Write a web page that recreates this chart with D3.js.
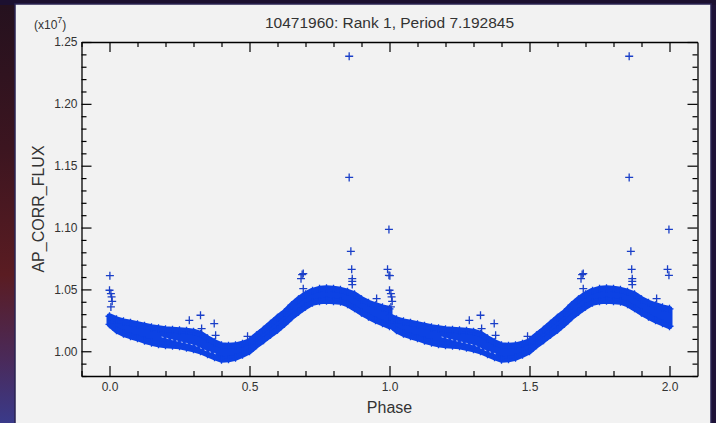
<!DOCTYPE html>
<html>
<head>
<meta charset="utf-8">
<script src="https://cdn.jsdelivr.net/npm/d3@7"></script>
<style>
  html, body { margin: 0; padding: 0; background: #1c1030; }
  svg { display: block; }
  text { font-family: "Liberation Sans", Arial, Helvetica, sans-serif; fill: #333; }
</style>
</head>
<body>
<svg id="chart" width="716" height="423"></svg>
<script>
// Phase-folded light curve, flux in units of 1e7.
// Band envelope sampled in phase (one cycle, drawn at phase and phase + 1).
const phaseGrid = [0.000, 0.025, 0.050, 0.075, 0.100, 0.125, 0.150, 0.175, 0.200, 0.225,
                   0.250, 0.275, 0.300, 0.325, 0.350, 0.375, 0.400, 0.425, 0.450, 0.475,
                   0.500, 0.525, 0.550, 0.575, 0.600, 0.625, 0.650, 0.675, 0.700, 0.725,
                   0.750, 0.775, 0.800, 0.825, 0.850, 0.875, 0.900, 0.925, 0.950, 0.975, 1.000];
const bandUpper = [1.0283, 1.0258, 1.0242, 1.0230, 1.0218, 1.0206, 1.0194, 1.0186, 1.0178, 1.0174,
                   1.0170, 1.0166, 1.0158, 1.0141, 1.0105, 1.0073, 1.0048, 1.0044, 1.0048, 1.0061,
                   1.0081, 1.0129, 1.0174, 1.0222, 1.0271, 1.0315, 1.0372, 1.0420, 1.0460, 1.0489,
                   1.0505, 1.0509, 1.0505, 1.0497, 1.0481, 1.0460, 1.0420, 1.0392, 1.0372, 1.0355, 1.0343];
const bandLower = [1.0218, 1.0170, 1.0141, 1.0121, 1.0105, 1.0085, 1.0069, 1.0057, 1.0048, 1.0044,
                   1.0040, 1.0028, 1.0016, 1.0000, 0.9976, 0.9952, 0.9931, 0.9935, 0.9947, 0.9972,
                   1.0000, 1.0048, 1.0089, 1.0133, 1.0174, 1.0222, 1.0275, 1.0319, 1.0359, 1.0392,
                   1.0404, 1.0408, 1.0404, 1.0400, 1.0380, 1.0347, 1.0311, 1.0279, 1.0250, 1.0226, 1.0202];

// Sparse seam between the two overlapping segments of the band
const seamPhase = [0.186, 0.215, 0.245, 0.275, 0.305, 0.341, 0.365, 0.388];
const seamFlux  = [1.0116, 1.0098, 1.0081, 1.0064, 1.0048, 1.0008, 0.9990, 0.9973];

// Individual points standing off the band.
const outlierPhase = [0.0014, 0.0000, 0.0050, 0.0075, 0.0096, 0.0050,
                      0.285, 0.325, 0.329, 0.374, 0.379, 0.493,
                      0.688, 0.692, 0.684, 0.692,
                      0.856, 0.856, 0.862, 0.865, 0.867, 0.867, 0.867,
                      0.954, 0.993, 0.998, 0.998];
const outlierFlux  = [1.0611, 1.0493, 1.0466, 1.0439, 1.0404, 1.0358,
                      1.0250, 1.0291, 1.0183, 1.0224, 1.0129, 1.0121,
                      1.0620, 1.0628, 1.0587, 1.0506,
                      1.2385, 1.1405, 1.0808, 1.0662, 1.0587, 1.0565, 1.0539,
                      1.0426, 1.0662, 1.0614, 1.0985];

const cycles = [0, 1];
const xMajor = [0, 0.5, 1, 1.5, 2];
const xMinor = d3.range(-1, 21).map(i => i / 10);
const yMajor = [1.00, 1.05, 1.10, 1.15, 1.20, 1.25];
const yMinor = d3.range(98, 126).map(i => i / 100);

const W = 716, H = 423;
const svg = d3.select("#chart");

// Window backdrop
const defs = svg.append("defs");
const g1 = defs.append("linearGradient").attr("id", "edge").attr("x1", 0).attr("y1", 0).attr("x2", 0).attr("y2", 1);
[[0, "#24111e"], [0.35, "#3c1520"], [0.65, "#5a1c22"], [0.85, "#4a2a5a"], [1, "#3a3a8a"]]
  .forEach(([o, c]) => g1.append("stop").attr("offset", o).attr("stop-color", c));
svg.append("rect").attr("width", W).attr("height", H).attr("fill", "url(#edge)");
svg.append("rect").attr("x", 690).attr("width", 26).attr("height", H).attr("fill", "#1e1238");
svg.append("rect").attr("width", W).attr("height", 5).attr("fill", "#1c1030");

// Panel
svg.append("rect").attr("x", 15).attr("y", 4).attr("width", 696).attr("height", 425)
  .attr("fill", "#f2f2f2").attr("stroke", "#2a2352").attr("stroke-width", 1.5);

const x = d3.scaleLinear().domain([-0.1, 2.1]).range([81.5, 697.5]);
const y = d3.scaleLinear().domain([0.98, 1.25]).range([376, 42]);
const [x0, x1] = x.range();
const [yb, yt] = y.range();

const blue = "#0c42e4";
const plot = svg.append("g");

// Dense band of observations (cross markers merge into a solid band)
const area = d3.area()
  .x(d => x(d.p))
  .y0(d => y(d.lo))
  .y1(d => y(d.hi));
const seam = d3.line().x(d => x(d[0])).y(d => y(d[1]));
const cross = "M-4,0H4M0,-4V4";

cycles.forEach(c => {
  const rows = phaseGrid.map((p, i) => ({ p: p + c, hi: bandUpper[i], lo: bandLower[i] }));
  plot.append("path").datum(rows).attr("d", area)
    .attr("fill", blue).attr("stroke", blue).attr("stroke-width", 6).attr("stroke-linejoin", "round");
  const edgePts = rows.flatMap(r => [[r.p, r.hi], [r.p, r.lo]]);
  plot.selectAll(null).data(edgePts).join("path")
    .attr("transform", d => `translate(${x(d[0])},${y(d[1])})`)
    .attr("d", cross).attr("stroke", blue).attr("stroke-width", 1.3).attr("fill", "none");
  plot.append("path").datum(seamPhase.map((p, i) => [p + c, seamFlux[i]])).attr("d", seam)
    .attr("fill", "none").attr("stroke", "#c8d2f4").attr("stroke-width", 1)
    .attr("stroke-dasharray", "2,3").attr("opacity", 0.8);
  const outs = outlierPhase.map((p, i) => [p + c, outlierFlux[i]]);
  plot.selectAll(null).data(outs).join("path")
    .attr("transform", d => `translate(${x(d[0])},${y(d[1])})`)
    .attr("d", cross).attr("stroke", "#1a3fc8").attr("stroke-width", 1.3).attr("fill", "none");
});

// Axes: ticks point into the plot on all four sides
function styleAxis(g) {
  g.selectAll("path.domain").attr("stroke", "#000").attr("stroke-width", 1.3);
  g.selectAll(".tick line").attr("stroke", "#000").attr("stroke-width", 1.2);
  g.selectAll(".tick text").attr("fill", "#333").style("font-size", "12px")
    .style("font-family", '"Liberation Sans", Arial, sans-serif');
}

const minorX = v => !xMajor.some(m => Math.abs(m - v) < 1e-9);
const minorY = v => !yMajor.some(m => Math.abs(m - v) < 1e-9);

svg.append("g").attr("transform", `translate(0,${yb})`)
  .call(d3.axisBottom(x).tickValues(xMinor.filter(minorX)).tickSize(-5).tickSizeOuter(0).tickFormat(""))
  .call(g => g.select(".domain").remove()).call(styleAxis);
svg.append("g").attr("transform", `translate(0,${yb})`)
  .call(d3.axisBottom(x).tickValues(xMajor).tickSize(-10).tickSizeOuter(0).tickPadding(6).tickFormat(d3.format(".1f")))
  .call(styleAxis);
svg.append("g").attr("transform", `translate(0,${yt})`)
  .call(d3.axisTop(x).tickValues(xMinor.filter(minorX)).tickSize(-5).tickSizeOuter(0).tickFormat(""))
  .call(g => g.select(".domain").remove()).call(styleAxis);
svg.append("g").attr("transform", `translate(0,${yt})`)
  .call(d3.axisTop(x).tickValues(xMajor).tickSize(-10).tickSizeOuter(0).tickFormat(""))
  .call(styleAxis);

svg.append("g").attr("transform", `translate(${x0},0)`)
  .call(d3.axisLeft(y).tickValues(yMinor.filter(minorY)).tickSize(-5).tickSizeOuter(0).tickFormat(""))
  .call(g => g.select(".domain").remove()).call(styleAxis);
svg.append("g").attr("transform", `translate(${x0},0)`)
  .call(d3.axisLeft(y).tickValues(yMajor).tickSize(-10).tickSizeOuter(0).tickPadding(4).tickFormat(d3.format(".2f")))
  .call(styleAxis);
svg.append("g").attr("transform", `translate(${x1},0)`)
  .call(d3.axisRight(y).tickValues(yMinor.filter(minorY)).tickSize(-5).tickSizeOuter(0).tickFormat(""))
  .call(g => g.select(".domain").remove()).call(styleAxis);
svg.append("g").attr("transform", `translate(${x1},0)`)
  .call(d3.axisRight(y).tickValues(yMajor).tickSize(-10).tickSizeOuter(0).tickFormat(""))
  .call(styleAxis);

// Titles
svg.append("text").attr("x", (x0 + x1) / 2).attr("y", 28).attr("text-anchor", "middle")
  .style("font-size", "15.5px").text("10471960: Rank 1, Period 7.192845");

const exp = svg.append("text").attr("x", 34).attr("y", 29).style("font-size", "12px");
exp.append("tspan").text("(x10");
exp.append("tspan").attr("dy", -6).style("font-size", "9px").text("7");
exp.append("tspan").attr("dy", 6).text(")");

svg.append("text").attr("x", (x0 + x1) / 2).attr("y", 413).attr("text-anchor", "middle")
  .style("font-size", "16px").text("Phase");

svg.append("text").attr("transform", `translate(44,${(yb + yt) / 2}) rotate(-90)`)
  .attr("text-anchor", "middle").style("font-size", "16px").text("AP_CORR_FLUX");
</script>
</body>
</html>
